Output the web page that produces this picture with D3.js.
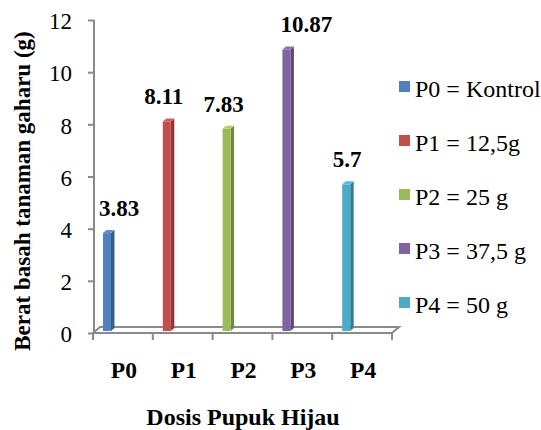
<!DOCTYPE html>
<html>
<head>
<meta charset="utf-8">
<script src="https://cdn.jsdelivr.net/npm/d3@7/dist/d3.min.js"></script>
<style>
  html, body { margin: 0; padding: 0; background: #fff; }
  svg { display: block; }
</style>
</head>
<body>
<div id="chart"></div>
<script>
// Fresh weight of agarwood seedlings by green manure dose
const categories = ["P0", "P1", "P2", "P3", "P4"];
const values = [3.83, 8.11, 7.83, 10.87, 5.7];
const valueLabels = ["3.83", "8.11", "7.83", "10.87", "5.7"];
const legendLabels = ["P0 = Kontrol", "P1 = 12,5g", "P2 = 25 g", "P3 = 37,5 g", "P4 = 50 g"];
const yTicks = [0, 2, 4, 6, 8, 10, 12];
const colors = ["#4F81BD", "#C0504D", "#9BBB59", "#8064A2", "#4BACC6"];

const FONT = "'Liberation Serif'";

const W = 541, H = 430;
const svg = d3.select("#chart").append("svg").attr("width", W).attr("height", H);

const x = d3.scaleBand().domain(categories).range([93, 392]).padding(0);
const y = d3.scaleLinear().domain([0, 12]).range([333, 20]);

const axisColor = "#8a8a8a";
const depthX = 7, depthY = -6;   // floor depth offset

// floor outline (3D base)
const x0 = 93, x1 = 392, yf = y(0);
svg.append("path")
  .attr("d", `M${x0},${yf} L${x1},${yf} L${x1 + depthX},${yf + depthY} L${x0 + depthX},${yf + depthY} Z`)
  .attr("fill", "none").attr("stroke", axisColor).attr("stroke-width", 2);

// category boundary ticks
svg.append("g").selectAll("line")
  .data(categories.concat(["end"]))
  .join("line")
  .attr("x1", (d, i) => i < categories.length ? x(d) : x1)
  .attr("x2", (d, i) => i < categories.length ? x(d) : x1)
  .attr("y1", yf).attr("y2", yf + 7)
  .attr("stroke", axisColor).attr("stroke-width", 2);

// y axis
const yAxis = d3.axisLeft(y).tickValues(yTicks).tickSize(6).tickPadding(16).tickFormat(d3.format("d"));
const gy = svg.append("g").attr("transform", "translate(94,0)").call(yAxis);
gy.attr("font-family", null).attr("font-size", null);
gy.select(".domain").attr("stroke", axisColor).attr("stroke-width", 2).attr("d", `M0,${y(12)}V${y(0)}`);
gy.selectAll(".tick line").attr("stroke", axisColor).attr("stroke-width", 2);
gy.selectAll(".tick text")
  .style("font-family", FONT)
  .style("font-size", "23px").attr("dy", "0.34em").attr("fill", "#000")
  .attr("transform", "translate(0,1)");

// 3D columns
const bw = 8, dx = 3.5, dy = -3;
const base = y(0) - 2;
const bars = svg.append("g").selectAll("g").data(values).join("g");
bars.each(function (v, i) {
  const g = d3.select(this);
  const bx = x(categories[i]) + 10;
  const top = y(v);
  const c = d3.color(colors[i]);
  // side face
  g.append("path")
    .attr("d", `M${bx + bw},${top} L${bx + bw + dx},${top + dy} L${bx + bw + dx},${base + dy} L${bx + bw},${base} Z`)
    .attr("fill", c.darker(0.9));
  // front face
  g.append("rect")
    .attr("x", bx).attr("y", top).attr("width", bw).attr("height", base - top)
    .attr("fill", colors[i]);
  // top face
  g.append("path")
    .attr("d", `M${bx},${top} L${bx + dx},${top + dy} L${bx + bw + dx},${top + dy} L${bx + bw},${top} Z`)
    .attr("fill", c.brighter(0.3));
});

// value labels above columns
const labelNudge = [12, -3, -3, 20, 1];
svg.append("g").selectAll("text").data(values).join("text")
  .attr("x", (v, i) => x(categories[i]) + 10 + bw / 2 + labelNudge[i])
  .attr("y", v => y(v) - 17)
  .attr("text-anchor", "middle")
  .style("font-family", FONT).style("font-size", "23px").style("font-weight", "bold")
  .text((v, i) => valueLabels[i]);

// category labels
svg.append("g").selectAll("text").data(categories).join("text")
  .attr("x", d => x(d) + x.bandwidth() / 2 + 1)
  .attr("y", 378)
  .attr("text-anchor", "middle")
  .style("font-family", FONT).style("font-size", "23.5px").style("font-weight", "bold")
  .text(d => d);

// axis titles
svg.append("text")
  .attr("x", 243).attr("y", 425)
  .attr("text-anchor", "middle")
  .style("font-family", FONT).style("font-size", "24px").style("font-weight", "bold")
  .text("Dosis Pupuk Hijau");

svg.append("text")
  .attr("transform", "translate(30,191) rotate(-90)")
  .attr("text-anchor", "middle")
  .style("font-family", FONT).style("font-size", "23px").style("font-weight", "bold")
  .text("Berat basah tanaman gaharu (g)");

// legend
const legend = svg.append("g").selectAll("g").data(legendLabels).join("g")
  .attr("transform", (d, i) => `translate(399,${89 + i * 54})`);
legend.append("rect")
  .attr("x", 0).attr("y", -8).attr("width", 11).attr("height", 11)
  .attr("fill", (d, i) => colors[i]);
legend.append("text")
  .attr("x", 16).attr("y", 8)
  .style("font-family", FONT).style("font-size", "24px")
  .text(d => d);
</script>
</body>
</html>
